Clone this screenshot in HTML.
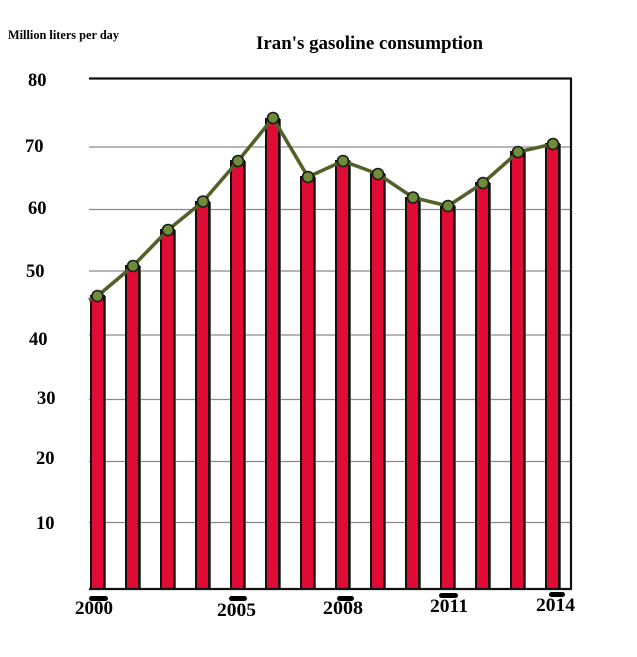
<!DOCTYPE html>
<html><head><meta charset="utf-8"><style>
html,body{margin:0;padding:0;background:#fff;}
svg{display:block;}
text{font-family:"Liberation Serif",serif;font-weight:bold;fill:#000;}
</style></head><body>
<svg width="637" height="657" viewBox="0 0 637 657" xmlns="http://www.w3.org/2000/svg">
<rect width="637" height="657" fill="#fff"/>
<text x="8" y="39" font-size="12.3" textLength="111" lengthAdjust="spacingAndGlyphs">Million liters per day</text>
<text x="256" y="49" font-size="19" textLength="227" lengthAdjust="spacingAndGlyphs">Iran's gasoline consumption</text>
<g stroke="#8a8a8a" stroke-width="1.2">
<line x1="89" y1="147" x2="571" y2="147"/>
<line x1="89" y1="209.5" x2="571" y2="209.5"/>
<line x1="89" y1="271" x2="571" y2="271"/>
<line x1="89" y1="335" x2="571" y2="335"/>
<line x1="89" y1="399.5" x2="571" y2="399.5"/>
<line x1="89" y1="461.5" x2="571" y2="461.5"/>
<line x1="89" y1="522.5" x2="571" y2="522.5"/>
</g>
<g font-size="18.5">
<text x="28" y="86">80</text>
<text x="25" y="152">70</text>
<text x="28" y="214">60</text>
<text x="26" y="277">50</text>
<text x="29" y="345">40</text>
<text x="37" y="404">30</text>
<text x="36" y="464">20</text>
<text x="36" y="529">10</text>
</g>
<g>
<rect x="91" y="296" width="15" height="293" fill="#555"/>
<rect x="126" y="266" width="15" height="323" fill="#555"/>
<rect x="161" y="230" width="15" height="359" fill="#555"/>
<rect x="196" y="202" width="15" height="387" fill="#555"/>
<rect x="231" y="161" width="15" height="428" fill="#555"/>
<rect x="266" y="119" width="15" height="470" fill="#555"/>
<rect x="301" y="177" width="15" height="412" fill="#555"/>
<rect x="336" y="161" width="15" height="428" fill="#555"/>
<rect x="371" y="174" width="15" height="415" fill="#555"/>
<rect x="406" y="198" width="15" height="391" fill="#555"/>
<rect x="441" y="206" width="15" height="383" fill="#555"/>
<rect x="476" y="183" width="15" height="406" fill="#555"/>
<rect x="511" y="152" width="15" height="437" fill="#555"/>
<rect x="546" y="144" width="15" height="445" fill="#555"/>
</g>
<g fill="#e10c35" stroke="#111" stroke-width="2">
<rect x="91" y="296" width="13" height="293"/>
<rect x="126" y="266" width="13" height="323"/>
<rect x="161" y="230" width="13" height="359"/>
<rect x="196" y="202" width="13" height="387"/>
<rect x="231" y="161" width="13" height="428"/>
<rect x="266" y="119" width="13" height="470"/>
<rect x="301" y="177" width="13" height="412"/>
<rect x="336" y="161" width="13" height="428"/>
<rect x="371" y="174" width="13" height="415"/>
<rect x="406" y="198" width="13" height="391"/>
<rect x="441" y="206" width="13" height="383"/>
<rect x="476" y="183" width="13" height="406"/>
<rect x="511" y="152" width="13" height="437"/>
<rect x="546" y="144" width="13" height="445"/>
</g>
<line x1="89" y1="78.5" x2="572" y2="78.5" stroke="#111" stroke-width="2.2"/>
<line x1="571" y1="78" x2="571" y2="590" stroke="#111" stroke-width="2.2"/>
<line x1="89" y1="589" x2="572" y2="589" stroke="#111" stroke-width="2.2"/>
<polyline fill="none" stroke="#526128" stroke-width="3.6" stroke-linejoin="round"
 points="89,300 97.5,296 133,266 168,230 203,201.5 238,161 273,118 308,177 343,161 378,174 413,197.5 448,206 483,183 518,152 553,144"/>
<g fill="#6f8c38" stroke="#1a1a1a" stroke-width="1.6">
<circle cx="97.5" cy="296" r="5.5"/>
<circle cx="133" cy="266" r="5.5"/>
<circle cx="168" cy="230" r="5.5"/>
<circle cx="203" cy="201.5" r="5.5"/>
<circle cx="238" cy="161" r="5.5"/>
<circle cx="273" cy="118" r="5.5"/>
<circle cx="308" cy="177" r="5.5"/>
<circle cx="343" cy="161" r="5.5"/>
<circle cx="378" cy="174" r="5.5"/>
<circle cx="413" cy="197.5" r="5.5"/>
<circle cx="448" cy="206" r="5.5"/>
<circle cx="483" cy="183" r="5.5"/>
<circle cx="518" cy="152" r="5.5"/>
<circle cx="553" cy="144" r="5.5"/>
</g>
<g fill="#000">
<rect x="89" y="596" width="19" height="5" rx="2.5"/>
<rect x="229" y="596" width="18" height="5" rx="2.5"/>
<rect x="337" y="596" width="17" height="5" rx="2.5"/>
<rect x="439" y="593" width="19" height="5" rx="2.5"/>
<rect x="549" y="592" width="16" height="5" rx="2.5"/>
</g>
<g font-size="18.5">
<text x="75" y="614" textLength="38" lengthAdjust="spacingAndGlyphs">2000</text>
<text x="217" y="616" textLength="39" lengthAdjust="spacingAndGlyphs">2005</text>
<text x="323" y="614" textLength="40" lengthAdjust="spacingAndGlyphs">2008</text>
<text x="430" y="612" textLength="38" lengthAdjust="spacingAndGlyphs">2011</text>
<text x="536" y="611" textLength="39" lengthAdjust="spacingAndGlyphs">2014</text>
</g>
</svg>
</body></html>
